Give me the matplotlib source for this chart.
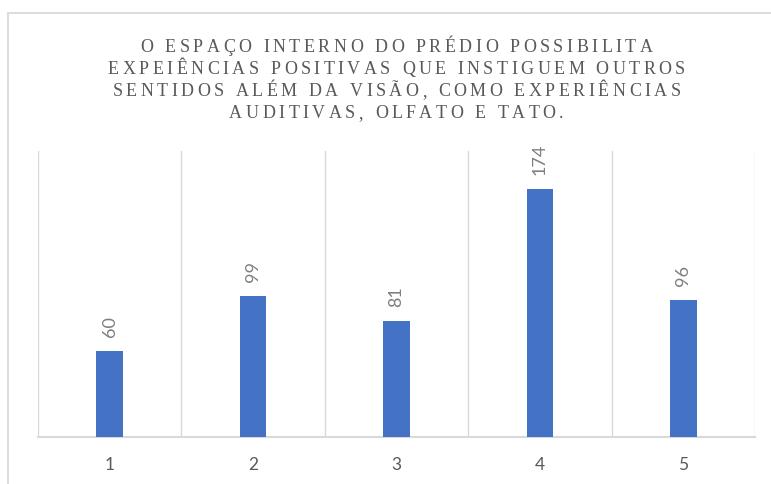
import matplotlib
matplotlib.use("Agg")
import matplotlib.pyplot as plt
from matplotlib.patches import Rectangle
from matplotlib.font_manager import FontProperties, findfont
from matplotlib.ft2font import FT2Font

categories = ["1", "2", "3", "4", "5"]
values = [60, 99, 81, 174, 96]
title_lines = [
    "O ESPAÇO INTERNO DO PRÉDIO POSSIBILITA",
    "EXPEIÊNCIAS POSITIVAS QUE INSTIGUEM OUTROS",
    "SENTIDOS ALÉM DA VISÃO, COMO EXPERIÊNCIAS",
    "AUDITIVAS, OLFATO E TATO.",
]

W, H, DPI = 771, 485, 100
BAR = "#4472C4"
GRID = "#D9D9D9"
TXT = "#595959"
LBL = "#7F7F7F"

fig = plt.figure(figsize=(W / DPI, H / DPI), dpi=DPI)
fig.patch.set_facecolor("white")

# chart frame (continues past the right and bottom edges)
fig.patches.append(Rectangle((7.5 / W, -0.1), 1.2, (H - 13.5) / H + 0.1,
                             transform=fig.transFigure, fill=False,
                             edgecolor=GRID, linewidth=1.3, clip_on=False))

left, right, top, bottom = 38, 755, 152, 437.5
ax = fig.add_axes([left / W, (H - bottom) / H, (right - left) / W, (bottom - top) / H])
x = list(range(len(categories)))
ax.bar(x, values, width=0.185, color=BAR, zorder=3)
ax.set_xlim(-0.5, len(categories) - 0.5)
ax.set_ylim(0, 201)

for b in [i - 0.5 for i in range(len(categories) + 1)]:
    ax.axvline(b, color=GRID, linewidth=1.0, zorder=1)

for s in ["left", "right", "top"]:
    ax.spines[s].set_visible(False)
ax.spines["bottom"].set_color(GRID)
ax.spines["bottom"].set_linewidth(1.5)
ax.set_yticks([])
ax.set_xticks(x)
ax.set_xticklabels(categories, fontsize=12.5, color=TXT, family="Lato")
ax.tick_params(axis="x", length=0, pad=14)

for xi, v in zip(x, values):
    ax.annotate(str(v), (xi, v), xytext=(0, 11), textcoords="offset points",
                rotation=90, ha="center", va="bottom", fontsize=13,
                color=LBL, family="Lato")

# title drawn glyph by glyph with extra letter spacing
TSIZE = 13
tprop = FontProperties(family="Liberation Serif", size=TSIZE)
font = FT2Font(findfont(tprop))
font.set_size(TSIZE, DPI)


def advance(ch):
    g = font.load_char(ord(ch))
    return g.linearHoriAdvance / 65536.0


tracking = 3.5
center_x = (left + right) / 2
baselines = [52, 74, 96, 118]
for line, base in zip(title_lines, baselines):
    widths = [advance(c) for c in line]
    total = sum(widths) + tracking * (len(line) - 1)
    px = center_x - total / 2
    for c, w in zip(line, widths):
        if c != " ":
            fig.text(px / W, (H - base) / H, c, fontproperties=tprop,
                     color=TXT, ha="left", va="baseline")
        px += w + tracking

fig.savefig("out.png", dpi=DPI)
